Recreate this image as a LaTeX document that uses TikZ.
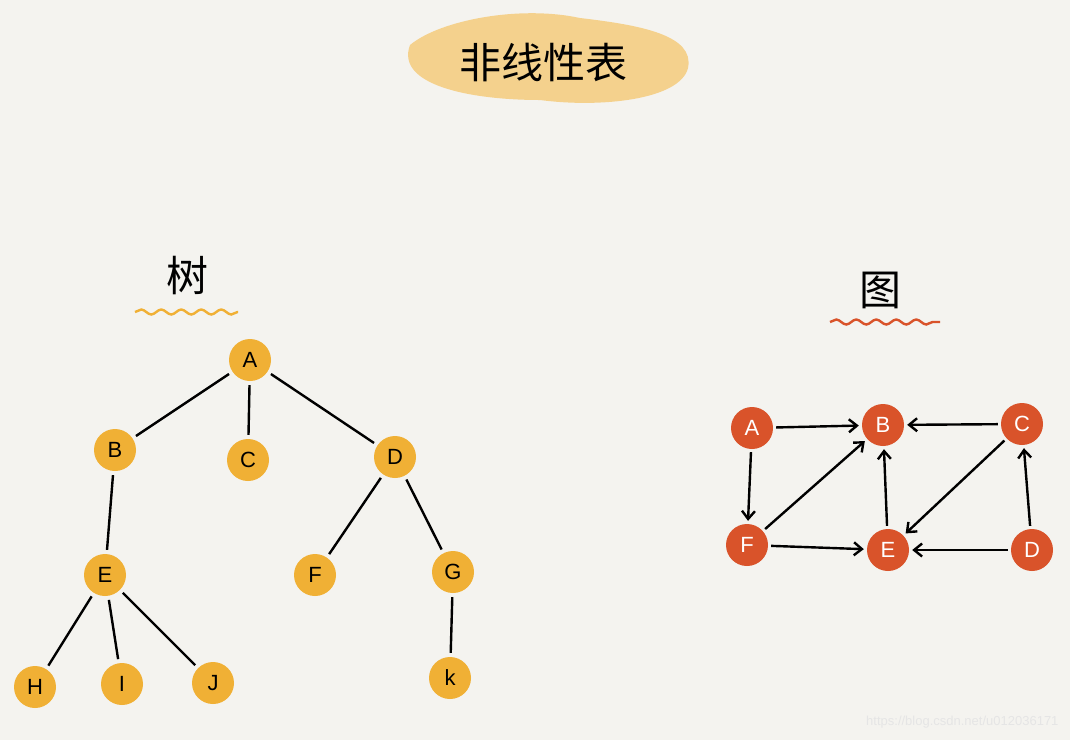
\documentclass[tikz,border=0pt]{standalone}
\usepackage{fontspec}
\setmainfont{Liberation Sans}
\newfontfamily\cjk{Noto Sans CJK SC}
\usetikzlibrary{decorations.pathmorphing,arrows.meta}
\definecolor{paper}{HTML}{F4F3EF}
\definecolor{treecol}{HTML}{F0B035}
\definecolor{graphcol}{HTML}{D9532A}
\tikzset{
  treenode/.style={circle,fill=treecol,minimum size=42pt,inner sep=0pt,font=\fontsize{22}{22}\selectfont},
  graphnode/.style={circle,fill=graphcol,text=white,minimum size=42pt,inner sep=0pt,font=\fontsize{22}{22}\selectfont},
  branch/.style={line width=2.4pt,black},
  link/.style={line width=2.4pt,black,-{Straight Barb[length=8pt,width=13pt]},shorten >=3pt,shorten <=3pt},
  squiggle/.style={line width=2.4pt,decorate,decoration={snake,amplitude=2.5pt,segment length=20pt}}
}
\begin{document}
\begin{tikzpicture}[x=1pt,y=-1pt]
\fill[paper] (0,0) rectangle (1070,740);
\useasboundingbox (0,0) rectangle (1070,740);
% title
\fill[treecol!65,opacity=0.85] (410,45) .. controls (440,20) and (520,5) .. (580,18) .. controls (640,25) and (695,35) .. (688,68) .. controls (680,100) and (600,108) .. (540,100) .. controls (470,100) and (395,85) .. (410,45);
\node[font=\cjk\fontsize{42}{42}\selectfont] (title) at (543,62) {非线性表};
% headings
\node[font=\cjk\fontsize{42}{42}\selectfont] (treehead) at (187,276) {树};
\draw[squiggle,treecol] (135,312) -- (238,312);
\node[font=\cjk\fontsize{42}{42}\selectfont] (graphhead) at (880,290) {图};
\draw[squiggle,graphcol] (830,322) -- (940,322);
% tree
\node[treenode] (A) at (250,360) {A};
\node[treenode] (B) at (115,450) {B};
\node[treenode] (C) at (248,460) {C};
\node[treenode] (D) at (395,457) {D};
\node[treenode] (E) at (105,575) {E};
\node[treenode] (F) at (315,575) {F};
\node[treenode] (G) at (453,572) {G};
\node[treenode] (H) at (35,687) {H};
\node[treenode] (I) at (122,684) {I};
\node[treenode] (J) at (213,683) {J};
\node[treenode] (K) at (450,678) {k};
\foreach \u/\v in {A/B,A/C,A/D,B/E,D/F,D/G,E/H,E/I,E/J,G/K}
  \draw[branch,shorten >=4pt,shorten <=4pt] (\u) -- (\v);
% graph
\node[graphnode] (gA) at (752,428) {A};
\node[graphnode] (gB) at (883,425) {B};
\node[graphnode] (gC) at (1022,424) {C};
\node[graphnode] (gF) at (747,545) {F};
\node[graphnode] (gE) at (888,550) {E};
\node[graphnode] (gD) at (1032,550) {D};
\foreach \u/\v in {gA/gB,gC/gB,gA/gF,gF/gB,gE/gB,gC/gE,gD/gC,gF/gE,gD/gE}
  \draw[link] (\u) -- (\v);
% watermark
\node[text=white!80!gray,font=\fontsize{13}{13}\selectfont,anchor=east] (mark) at (1062,722) {https://blog.csdn.net/u012036171};
\end{tikzpicture}
\end{document}
